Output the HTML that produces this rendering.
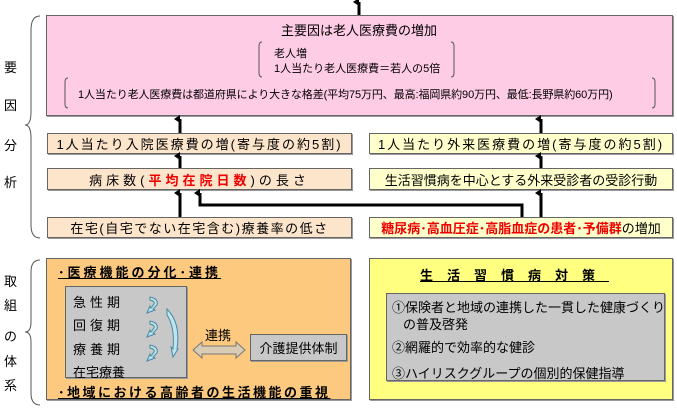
<!DOCTYPE html>
<html><head><meta charset="utf-8"><style>
body{margin:0;width:677px;height:408px;background:#fff;position:relative;overflow:hidden;font-family:"Liberation Sans","Noto Sans CJK JP",sans-serif;color:#000}
.a{position:absolute;box-sizing:border-box}
.b{border:1px solid #666;box-shadow:1px 1px 0 #999}
.t{font-size:12px;white-space:nowrap}
.c{display:flex;align-items:center;justify-content:center}
</style></head><body>
<div class="a t" style="left:4px;top:57px;font-size:13px">要</div>
<div class="a t" style="left:4px;top:95px;font-size:13px">因</div>
<div class="a t" style="left:4px;top:135px;font-size:13px">分</div>
<div class="a t" style="left:4px;top:172px;font-size:13px">析</div>
<div class="a t" style="left:4px;top:271px;font-size:13px">取</div>
<div class="a t" style="left:4px;top:295px;font-size:13px">組</div>
<div class="a t" style="left:4px;top:326px;font-size:13px">の</div>
<div class="a t" style="left:4px;top:351px;font-size:13px">体</div>
<div class="a t" style="left:4px;top:375px;font-size:13px">系</div>

<div class="a b" style="left:46px;top:15px;width:627px;height:101px;background:#ffcce6"></div>
<div class="a t" style="left:281px;top:20px;font-size:13px">主要因は老人医療費の増加</div>
<div class="a t" style="left:274px;top:45px;font-size:11px">老人増</div>
<div class="a t" style="left:274px;top:60px;font-size:11px">1人当たり老人医療費＝若人の5倍</div>
<div class="a t" style="left:78px;top:86px;font-size:11px;letter-spacing:-0.1px">1人当たり老人医療費は都道府県により大きな格差(平均75万円、最高:福岡県約90万円、最低:長野県約60万円)</div>

<div class="a b c t" style="left:47px;top:133px;width:305px;height:21px;background:#fde5cc;font-size:13px;letter-spacing:2px">1人当たり入院医療費の増(寄与度の約5割)</div>
<div class="a b c t" style="left:369px;top:133px;width:304px;height:21px;background:#ffffcc;font-size:13px;letter-spacing:2px">1人当たり外来医療費の増(寄与度の約5割)</div>
<div class="a b c t" style="left:47px;top:168px;width:305px;height:22px;background:#fde5cc;font-size:13px;letter-spacing:4px">病床数(<b style="color:#e00">平均在院日数</b>)の長さ</div>
<div class="a b c t" style="left:369px;top:168px;width:304px;height:22px;background:#ffffcc;font-size:13px">生活習慣病を中心とする外来受診者の受診行動</div>
<div class="a b c t" style="left:47px;top:217px;width:305px;height:21px;background:#fde5cc;font-size:13px;letter-spacing:1.5px">在宅(自宅でない在宅含む)療養率の低さ</div>
<div class="a b c t" style="left:369px;top:217px;width:304px;height:21px;background:#ffffcc;font-size:13px"><b style="color:#e00">糖尿病･高血圧症･高脂血症の患者･予備群</b>の増加</div>

<div class="a b" style="left:46px;top:258px;width:305px;height:142px;background:#fdc97f"></div>
<div class="a t" style="left:58px;top:262px;font-size:13px;font-weight:bold;text-decoration:underline;letter-spacing:3px">･医療機能の分化･連携</div>
<div class="a b" style="left:65px;top:286px;width:122px;height:92px;background:#c8c8c8"></div>
<div class="a t" style="left:73px;top:292px;font-size:13px;letter-spacing:4px">急性期</div>
<div class="a t" style="left:73px;top:315px;font-size:13px;letter-spacing:4px">回復期</div>
<div class="a t" style="left:73px;top:339px;font-size:13px;letter-spacing:4px">療養期</div>
<div class="a t" style="left:73px;top:362px;font-size:13px">在宅療養</div>
<svg class="a" style="left:145px;top:295px" width="40" height="80"><g fill="#bfe4ee" stroke="#4a8aa0" stroke-width="1">
<path d="M5,2 Q14,4 12,10 L8,14 L10,15 L2,18 L5,11 L6,13 L9,9 Q10,6 5,5Z"/>
<path d="M5,26 Q14,28 12,34 L8,38 L10,39 L2,42 L5,35 L6,37 L9,33 Q10,30 5,29Z"/>
<path d="M5,50 Q14,52 12,58 L8,62 L10,63 L2,66 L5,59 L6,61 L9,57 Q10,54 5,53Z"/>
<path d="M22,14 Q36,28 32,54 L33,54 L28,62 L26,52 L28,54 Q30,32 22,20Z"/></g></svg>
<div class="a t" style="left:205px;top:325px;font-size:13px">連携</div>
<svg class="a" style="left:192px;top:341px" width="54" height="18"><path d="M1,9 L10,1 L10,5 L44,5 L44,1 L53,9 L44,17 L44,13 L10,13 L10,17Z" fill="#d8ccb4" stroke="#777"/></svg>
<div class="a b c t" style="left:250px;top:334px;width:97px;height:27px;background:#c8c8c8;font-size:13px">介護提供体制</div>
<div class="a t" style="left:58px;top:382px;font-size:13px;font-weight:bold;text-decoration:underline;letter-spacing:2.5px">･地域における高齢者の生活機能の重視</div>

<div class="a b" style="left:369px;top:258px;width:304px;height:142px;background:#ffff80"></div>
<div class="a t" style="left:420px;top:265px;font-size:13px;font-weight:bold;text-decoration:underline;letter-spacing:14px">生活習慣病対策</div>
<div class="a b" style="left:386px;top:293px;width:279px;height:88px;background:#c8c8c8"></div>
<div class="a t" style="left:392px;top:297px;font-size:13px">①保険者と地域の連携した一貫した健康づくり</div>
<div class="a t" style="left:403px;top:314px;font-size:13px">の普及啓発</div>
<div class="a t" style="left:392px;top:337px;font-size:13px">②網羅的で効率的な健診</div>
<div class="a t" style="left:392px;top:363px;font-size:13px">③ハイリスクグループの個別的保健指導</div>

<svg class="a" style="left:0;top:0;z-index:5" width="677" height="408">
<defs><marker id="ah" markerWidth="8" markerHeight="8" refX="4" refY="6" orient="auto" markerUnits="userSpaceOnUse"><path d="M0,6 L4,0 L8,6 Z" fill="#000"/></marker></defs>
<g stroke="#000" stroke-width="3" fill="none">
<line x1="359" y1="15" x2="359" y2="2" marker-end="url(#ah)"/>
<line x1="180" y1="133" x2="180" y2="119" marker-end="url(#ah)"/>
<line x1="541" y1="133" x2="541" y2="119" marker-end="url(#ah)"/>
<line x1="180" y1="168" x2="180" y2="156" marker-end="url(#ah)"/>
<line x1="541" y1="168" x2="541" y2="156" marker-end="url(#ah)"/>
<line x1="180" y1="217" x2="180" y2="193" marker-end="url(#ah)"/>
<line x1="541" y1="217" x2="541" y2="193" marker-end="url(#ah)"/>
<polyline points="522,217 522,205 200,205 200,193" marker-end="url(#ah)"/>
</g>
<g stroke="#555" stroke-width="1" fill="none">
<path d="M40,16 Q31,16 31,30 L31,112 Q31,125 25,125 Q31,125 31,138 L31,225 Q31,238 40,238"/>
<path d="M40,260 Q31,260 31,272 L31,322 Q31,332 25,332 Q31,332 31,342 L31,393 Q31,405 40,405"/>
<path d="M262,42 Q259,42 259,46 L259,73 Q259,77 262,77"/>
<path d="M451,42 Q454,42 454,46 L454,73 Q454,77 451,77"/>
<path d="M68,78 Q65,78 65,82 L65,104 Q65,108 68,108"/>
<path d="M652,78 Q655,78 655,82 L655,104 Q655,108 652,108"/>
</g>
</svg>
</body></html>
